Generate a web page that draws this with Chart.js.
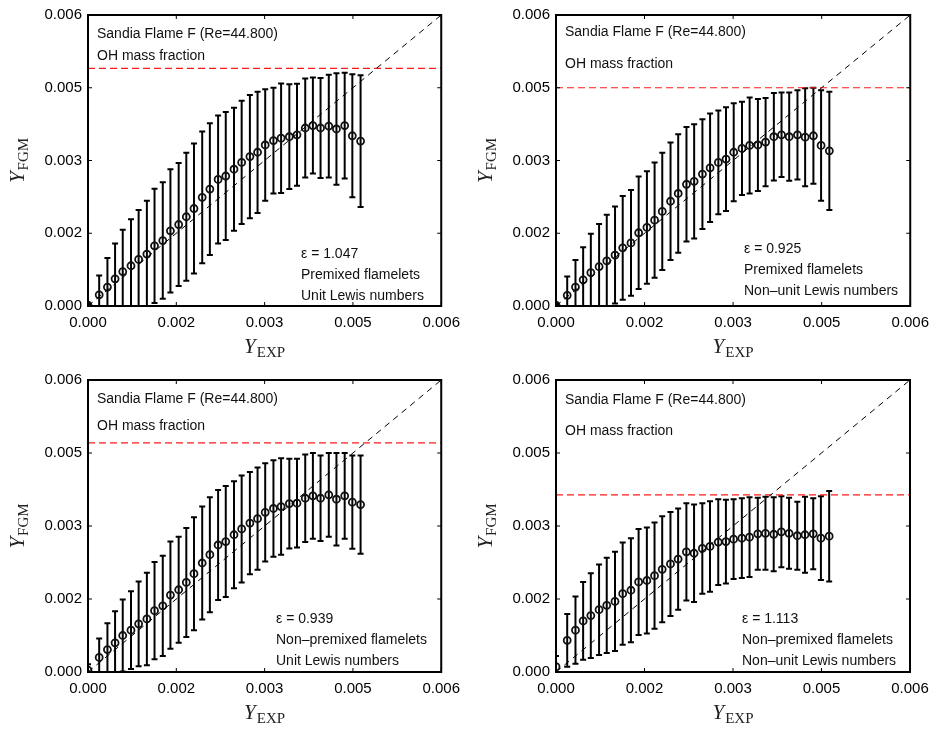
<!DOCTYPE html>
<html>
<head>
<meta charset="utf-8">
<script src="https://cdn.jsdelivr.net/npm/chart.js@4.4.0/dist/chart.umd.min.js"></script>
<style>
  body { margin: 0; background: #fff; }
  #wrap { position: relative; width: 937px; height: 730px; }
  canvas { position: absolute; }
</style>
</head>
<body>
<div id="wrap">
  <canvas id="c1" width="468" height="365" style="left:0;top:0"></canvas>
  <canvas id="c2" width="469" height="365" style="left:468px;top:0"></canvas>
  <canvas id="c3" width="468" height="365" style="left:0;top:365px"></canvas>
  <canvas id="c4" width="469" height="365" style="left:468px;top:365px"></canvas>
</div>
<script>
// experimental OH mass fraction (bin centres), shared by all panels
const expX = [0, 0.00019, 0.00033, 0.00046, 0.00059, 0.00073, 0.00086, 0.00100, 0.00113, 0.00127,
  0.00140, 0.00154, 0.00167, 0.00180, 0.00194, 0.00207, 0.00221, 0.00234, 0.00248, 0.00261,
  0.00275, 0.00288, 0.00301, 0.00315, 0.00328, 0.00342, 0.00355, 0.00369, 0.00382, 0.00395,
  0.00409, 0.00422, 0.00436, 0.00449, 0.00463];

const tickValues = [0, 0.0015, 0.003, 0.0045, 0.006];
const tickLabels = ["0.000", "0.002", "0.003", "0.005", "0.006"];

// premixed, unit Le
const fgmMean1 = [0.00002, 0.00023, 0.00039, 0.00056, 0.00071, 0.00083, 0.00096, 0.00107, 0.00124, 0.00135,
  0.00155, 0.00168, 0.00184, 0.00201, 0.00224, 0.00241, 0.00261, 0.00268, 0.00282, 0.00296,
  0.00308, 0.00317, 0.00332, 0.00341, 0.00346, 0.00349, 0.00353, 0.00367, 0.00372, 0.00367,
  0.00371, 0.00365, 0.00372, 0.00351, 0.00340];
const fgmSd1 = [0.00002, 0.00040, 0.00060, 0.00073, 0.00086, 0.00096, 0.00102, 0.00110, 0.00118, 0.00120,
  0.00127, 0.00127, 0.00132, 0.00134, 0.00136, 0.00136, 0.00132, 0.00132, 0.00127, 0.00127,
  0.00127, 0.00125, 0.00115, 0.00109, 0.00113, 0.00108, 0.00105, 0.00102, 0.00099, 0.00103,
  0.00106, 0.00115, 0.00109, 0.00127, 0.00136];

// premixed, non-unit Le
const fgmMean2 = [0.00002, 0.00022, 0.00039, 0.00054, 0.00069, 0.00081, 0.00093, 0.00105, 0.00120, 0.00130,
  0.00151, 0.00162, 0.00177, 0.00195, 0.00216, 0.00232, 0.00251, 0.00257, 0.00272, 0.00285,
  0.00296, 0.00303, 0.00317, 0.00325, 0.00331, 0.00332, 0.00338, 0.00349, 0.00353, 0.00349,
  0.00353, 0.00348, 0.00351, 0.00331, 0.00320];
const fgmSd2 = [0.00002, 0.00039, 0.00056, 0.00067, 0.00080, 0.00088, 0.00095, 0.00100, 0.00107, 0.00109,
  0.00116, 0.00116, 0.00119, 0.00121, 0.00121, 0.00122, 0.00118, 0.00118, 0.00113, 0.00112,
  0.00107, 0.00107, 0.00101, 0.00096, 0.00099, 0.00095, 0.00091, 0.00090, 0.00087, 0.00091,
  0.00092, 0.00101, 0.00099, 0.00114, 0.00122];

// non-premixed, unit Le
const fgmMean3 = [0.00004, 0.00030, 0.00046, 0.00060, 0.00075, 0.00086, 0.00099, 0.00109, 0.00126, 0.00136,
  0.00158, 0.00169, 0.00184, 0.00202, 0.00224, 0.00241, 0.00261, 0.00268, 0.00282, 0.00294,
  0.00306, 0.00315, 0.00328, 0.00336, 0.00340, 0.00346, 0.00347, 0.00357, 0.00362, 0.00357,
  0.00364, 0.00355, 0.00362, 0.00349, 0.00344];
const fgmSd3 = [0.00012, 0.00039, 0.00054, 0.00065, 0.00074, 0.00080, 0.00087, 0.00095, 0.00100, 0.00103,
  0.00110, 0.00109, 0.00112, 0.00116, 0.00116, 0.00118, 0.00113, 0.00114, 0.00110, 0.00110,
  0.00105, 0.00105, 0.00101, 0.00099, 0.00099, 0.00092, 0.00091, 0.00090, 0.00088, 0.00088,
  0.00086, 0.00095, 0.00088, 0.00096, 0.00101];

// non-premixed, non-unit Le
const fgmMean4 = [0.00011, 0.00065, 0.00086, 0.00105, 0.00116, 0.00128, 0.00137, 0.00145, 0.00161, 0.00168,
  0.00185, 0.00188, 0.00198, 0.00211, 0.00222, 0.00232, 0.00247, 0.00244, 0.00254, 0.00258,
  0.00267, 0.00268, 0.00273, 0.00275, 0.00277, 0.00284, 0.00285, 0.00283, 0.00288, 0.00285,
  0.00280, 0.00282, 0.00284, 0.00275, 0.00279];
const fgmSd4 = [0.00022, 0.00054, 0.00069, 0.00080, 0.00087, 0.00093, 0.00098, 0.00102, 0.00105, 0.00107,
  0.00109, 0.00109, 0.00109, 0.00109, 0.00107, 0.00104, 0.00100, 0.00100, 0.00093, 0.00093,
  0.00088, 0.00086, 0.00082, 0.00082, 0.00082, 0.00074, 0.00075, 0.00076, 0.00073, 0.00073,
  0.00070, 0.00078, 0.00073, 0.00086, 0.00093];

// red dashed level in each panel
const redLevels = [0.0049, 0.0045, 0.00471, 0.00364];

const caseTitle = "Sandia Flame F (Re=44.800)";
const quantityLabel = "OH mass fraction";
const epsilons = ["1.047", "0.925", "0.939", "1.113"];
const flameletTypes = ["Premixed flamelets", "Premixed flamelets", "Non\u2013premixed flamelets", "Non\u2013premixed flamelets"];
const lewisTypes = ["Unit Lewis numbers", "Non\u2013unit Lewis numbers", "Unit Lewis numbers", "Non\u2013unit Lewis numbers"];

const panels = [
  { id: "c1", mean: fgmMean1, sd: fgmSd1, padTop: 11, padRight: 25, xAxisH: 59, headY: [19, 41], noteX: 213, noteY: 239 },
  { id: "c2", mean: fgmMean2, sd: fgmSd2, padTop: 12, padRight: 26, xAxisH: 59, headY: [17, 49], noteX: 188, noteY: 234 },
  { id: "c3", mean: fgmMean3, sd: fgmSd3, padTop: 12, padRight: 25, xAxisH: 58, headY: [19, 46], noteX: 188, noteY: 239 },
  { id: "c4", mean: fgmMean4, sd: fgmSd4, padTop: 12, padRight: 27, xAxisH: 58, headY: [20, 51], noteX: 186, noteY: 239 }
];

Chart.defaults.font.family = "'Liberation Sans', Arial, sans-serif";
Chart.defaults.color = "#000";

// italic Y with a roman subscript, optionally rotated
function drawSubLabel(ctx, main, sub, x, y, rotate) {
  ctx.save();
  ctx.translate(x, y);
  if (rotate) ctx.rotate(-Math.PI / 2);
  ctx.fillStyle = "#222";
  ctx.textBaseline = "alphabetic";
  ctx.textAlign = "left";
  ctx.font = "italic 21px 'Liberation Serif', serif";
  const wMain = ctx.measureText(main).width;
  ctx.font = "15px 'Liberation Serif', serif";
  const wSub = ctx.measureText(sub).width;
  const start = -(wMain + wSub + 1) / 2;
  ctx.font = "italic 21px 'Liberation Serif', serif";
  ctx.fillText(main, start, 0);
  ctx.font = "15px 'Liberation Serif', serif";
  ctx.fillText(sub, start + wMain + 1, 4);
  ctx.restore();
}

function makeDecor(p, idx) {
  return {
    id: "decor",
    beforeDatasetsDraw(chart) {
      const { ctx, chartArea: a, scales: { x, y } } = chart;
      ctx.save();
      ctx.beginPath();
      ctx.rect(a.left, a.top, a.right - a.left, a.bottom - a.top);
      ctx.clip();
      ctx.strokeStyle = "#000";
      ctx.lineWidth = 2;
      expX.forEach((xv, i) => {
        const px = x.getPixelForValue(xv);
        const top = y.getPixelForValue(p.mean[i] + p.sd[i]);
        const bot = y.getPixelForValue(p.mean[i] - p.sd[i]);
        ctx.beginPath();
        ctx.moveTo(px, top); ctx.lineTo(px, bot);
        ctx.moveTo(px - 3, top); ctx.lineTo(px + 3, top);
        ctx.moveTo(px - 3, bot); ctx.lineTo(px + 3, bot);
        ctx.stroke();
      });
      ctx.restore();
    },
    afterDraw(chart) {
      const { ctx, chartArea: a, scales: { x, y } } = chart;
      ctx.save();
      // box + inward ticks on all sides
      ctx.strokeStyle = "#000";
      ctx.lineWidth = 2;
      ctx.strokeRect(a.left, a.top, a.right - a.left, a.bottom - a.top);
      ctx.lineWidth = 1;
      ctx.beginPath();
      tickValues.forEach(v => {
        const px = x.getPixelForValue(v);
        ctx.moveTo(px, a.bottom); ctx.lineTo(px, a.bottom - 4);
        ctx.moveTo(px, a.top); ctx.lineTo(px, a.top + 4);
        const py = y.getPixelForValue(v);
        ctx.moveTo(a.left, py); ctx.lineTo(a.left + 4, py);
        ctx.moveTo(a.right, py); ctx.lineTo(a.right - 4, py);
      });
      ctx.stroke();

      // annotations
      ctx.fillStyle = "#111";
      ctx.font = "14px 'Liberation Sans', Arial, sans-serif";
      ctx.textAlign = "left";
      ctx.textBaseline = "middle";
      ctx.fillText(caseTitle, a.left + 9, a.top + p.headY[0]);
      ctx.fillText(quantityLabel, a.left + 9, a.top + p.headY[1]);
      const nx = a.left + p.noteX;
      ctx.fillText("\u03b5 = " + epsilons[idx], nx, a.top + p.noteY);
      ctx.fillText(flameletTypes[idx], nx, a.top + p.noteY + 21);
      ctx.fillText(lewisTypes[idx], nx, a.top + p.noteY + 42);
      ctx.restore();

      // axis titles
      drawSubLabel(ctx, "Y", "EXP", (a.left + a.right) / 2, a.bottom + 47, false);
      drawSubLabel(ctx, "Y", "FGM", 24, (a.top + a.bottom) / 2, true);
    }
  };
}

panels.forEach((p, idx) => {
  const points = expX.map((xv, i) => ({ x: xv, y: p.mean[i] }));
  new Chart(document.getElementById(p.id), {
    type: "scatter",
    data: {
      datasets: [
        {
          type: "line",
          data: [{ x: 0, y: 0 }, { x: 0.006, y: 0.006 }],
          borderColor: "#000",
          borderWidth: 1,
          borderDash: [6, 5],
          pointRadius: 0
        },
        {
          type: "line",
          data: [{ x: 0, y: redLevels[idx] }, { x: 0.006, y: redLevels[idx] }],
          borderColor: "#ff1a1a",
          borderWidth: 1.2,
          borderDash: [7, 4],
          pointRadius: 0
        },
        {
          data: points,
          pointRadius: 3.5,
          pointBorderWidth: 1.8,
          borderColor: "#111",
          backgroundColor: "rgba(0,0,0,0)"
        }
      ]
    },
    options: {
      responsive: false,
      animation: false,
      layout: { padding: { top: p.padTop, right: p.padRight, left: 0, bottom: 0 } },
      plugins: { legend: { display: false }, tooltip: { enabled: false } },
      scales: {
        x: {
          type: "linear",
          min: 0,
          max: 0.006,
          afterBuildTicks: s => { s.ticks = tickValues.map(v => ({ value: v })); },
          afterFit: s => { s.height = p.xAxisH; },
          grid: { display: false, drawTicks: false },
          border: { display: false },
          ticks: { padding: 8, font: { size: 15 }, color: "#000", callback: (v, i) => tickLabels[i] }
        },
        y: {
          type: "linear",
          min: 0,
          max: 0.006,
          afterBuildTicks: s => { s.ticks = tickValues.map(v => ({ value: v })); },
          afterFit: s => { s.width = 88; },
          grid: { display: false, drawTicks: false },
          border: { display: false },
          ticks: { padding: 6, font: { size: 15 }, color: "#000", callback: (v, i) => tickLabels[i] }
        }
      }
    },
    plugins: [makeDecor(p, idx)]
  });
});
</script>
</body>
</html>
